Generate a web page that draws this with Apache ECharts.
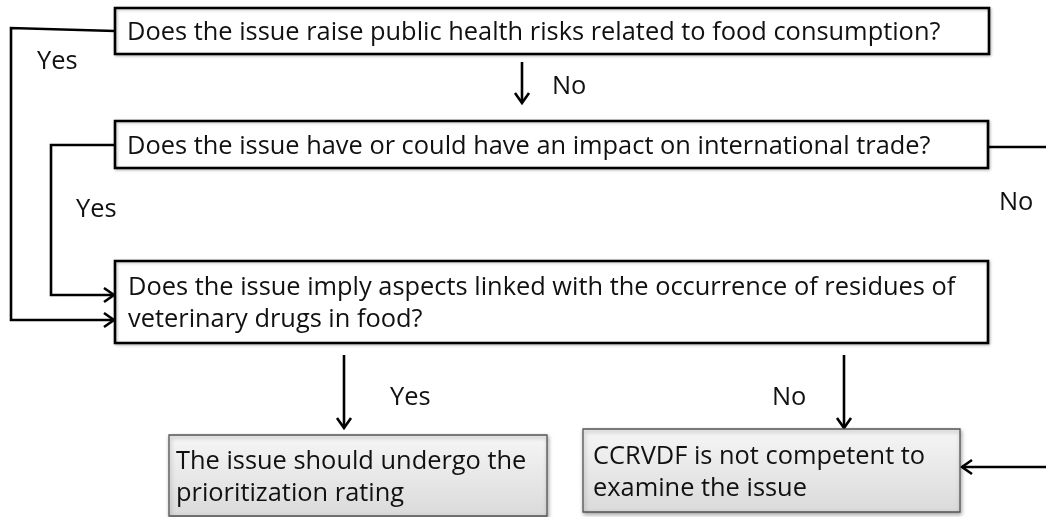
<!DOCTYPE html>
<html>
<head>
<meta charset="utf-8">
<script src="https://cdn.jsdelivr.net/npm/echarts@6/dist/echarts.min.js"></script>
<style>
  html, body { margin: 0; padding: 0; background: #fff; }
  #main { width: 1046px; height: 517px; }
</style>
</head>
<body>
<div id="main"></div>
<script>
"use strict";

// box texts (one entry per line)
var boxTexts = [
  ["Does the issue raise public health risks related to food consumption?"],
  ["Does the issue have or could have an impact on international trade?"],
  ["Does the issue imply aspects linked with the occurrence of residues of", "veterinary drugs in food?"],
  ["The issue should undergo the", "prioritization rating"],
  ["CCRVDF is not competent to", "examine the issue"]
];
var boxKinds = ["question", "question", "question", "outcome", "outcome"];
var edgeLabels = ["Yes", "No", "Yes", "No", "Yes", "No"];

// layout in page units (x, y from top-left)
var boxLayout = [
  [115, 8, 989, 54],
  [115, 121, 988, 168],
  [115, 261, 988, 343],
  [169, 435, 547, 516],
  [583, 429, 960, 512]
];
var textInset = [12, 12, 13, 7, 10];
var edgePaths = [
  [[115, 31], [11, 28], [11, 320], [114, 320]],
  [[522, 62], [522, 103]],
  [[115, 145], [51, 145], [51, 295], [114, 295]],
  [[988, 147], [1060, 147], [1060, 467], [962, 467]],
  [[344, 355], [344, 428]],
  [[844, 355], [844, 428]]
];
var labelPos = [[37, 62], [552, 87], [76, 210], [999, 203], [390, 398], [772, 398]];

var FONT = '25.4px "Open Sans", sans-serif';

var chartDom = document.getElementById("main");
var myChart = echarts.init(chartDom);

function renderBox(params, api) {
  var i = params.dataIndex;
  var p1 = api.coord([api.value(0), api.value(1)]);
  var p2 = api.coord([api.value(2), api.value(3)]);
  var outcome = boxKinds[i] === "outcome";
  var rectStyle = outcome
    ? {
        fill: new echarts.graphic.LinearGradient(0, 0, 0, 1, [
          { offset: 0, color: "#f6f6f6" },
          { offset: 1, color: "#dadada" }
        ]),
        stroke: "#555",
        lineWidth: 1.3,
        shadowBlur: 4,
        shadowOffsetX: 1,
        shadowOffsetY: 2,
        shadowColor: "rgba(0,0,0,0.35)"
      }
    : {
        fill: "#fff",
        stroke: "#000",
        lineWidth: 2.6,
        shadowBlur: 3,
        shadowOffsetX: 1,
        shadowOffsetY: 1,
        shadowColor: "rgba(0,0,0,0.25)"
      };
  return {
    type: "group",
    children: [
      {
        type: "rect",
        shape: { x: p1[0], y: p1[1], width: p2[0] - p1[0], height: p2[1] - p1[1] },
        style: rectStyle
      },
      {
        type: "text",
        x: p1[0] + textInset[i],
        y: (p1[1] + p2[1]) / 2 + 2,
        style: {
          text: boxTexts[i].join("\n"),
          font: FONT,
          fill: "#111",
          lineHeight: 32,
          verticalAlign: "middle",
          align: "left"
        }
      }
    ]
  };
}

function renderEdge(params, api) {
  var pts = edgePaths[params.dataIndex].map(function (p) {
    return api.coord(p);
  });
  var a = pts[pts.length - 2];
  var b = pts[pts.length - 1];
  var dx = b[0] - a[0];
  var dy = b[1] - a[1];
  var len = Math.sqrt(dx * dx + dy * dy);
  var ux = dx / len;
  var uy = dy / len;
  var hl = 10, hw = 7;
  var head = [
    [b[0] - ux * hl - uy * hw, b[1] - uy * hl + ux * hw],
    [b[0], b[1]],
    [b[0] - ux * hl + uy * hw, b[1] - uy * hl - ux * hw]
  ];
  var lineStyle = { stroke: "#000", lineWidth: 2.6, fill: null, lineJoin: "miter" };
  return {
    type: "group",
    children: [
      { type: "polyline", shape: { points: pts }, style: lineStyle },
      { type: "polyline", shape: { points: head }, style: lineStyle }
    ]
  };
}

function renderLabel(params, api) {
  var p = api.coord([api.value(0), api.value(1)]);
  return {
    type: "text",
    x: p[0],
    y: p[1],
    style: {
      text: edgeLabels[params.dataIndex],
      font: FONT,
      fill: "#111",
      verticalAlign: "middle",
      align: "left"
    }
  };
}

var option = {
  animation: false,
  grid: { left: 0, right: 0, top: 0, bottom: 0 },
  xAxis: { type: "value", min: 0, max: 1046, show: false },
  yAxis: { type: "value", min: 0, max: 517, inverse: true, show: false },
  series: [
    {
      type: "custom",
      clip: true,
      renderItem: renderEdge,
      data: edgePaths.map(function (p, i) {
        return [p[0][0], p[0][1], i];
      })
    },
    {
      type: "custom",
      renderItem: renderBox,
      data: boxLayout
    },
    {
      type: "custom",
      renderItem: renderLabel,
      data: labelPos
    }
  ]
};

option && myChart.setOption(option);
</script>
</body>
</html>
